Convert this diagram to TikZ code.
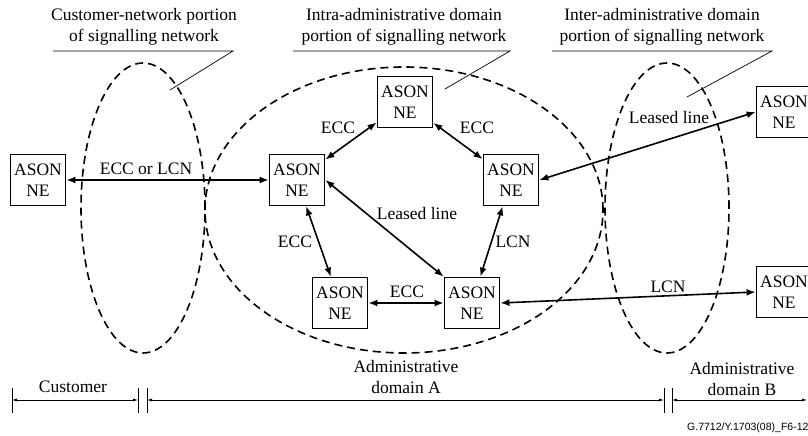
\documentclass[tikz,border=0pt]{standalone}
\usepackage{fontspec}
\setmainfont{Liberation Serif}
\newfontfamily\codefont{Liberation Sans}
\usetikzlibrary{arrows.meta}

\begin{document}
\begin{tikzpicture}[x=1pt,y=-1pt,
    font=\fontsize{17.5}{20.5}\selectfont,
    box/.style={draw,line width=1.8pt,minimum width=55pt,minimum height=51pt,inner sep=1pt,align=center},
    link/.style={{Latex[length=9pt,width=7pt]}-{Latex[length=9pt,width=7pt]},line width=1.6pt},
    portion/.style={line width=1.6pt,dash pattern=on 8pt off 5pt},
    lbl/.style={inner sep=0pt,align=center},
    dim/.style={{Latex[length=5pt,width=3pt]}-{Latex[length=5pt,width=3pt]},line width=0.7pt},
    leader/.style={line width=0.7pt}]
    \useasboundingbox (0,0) rectangle (808,436);

    % portions of the signalling network
    \draw[portion] (143,208) ellipse [x radius=62pt, y radius=145pt];
    \draw[portion] (404,210) ellipse [x radius=199pt, y radius=143pt];
    \draw[portion] (667,208) ellipse [x radius=62pt, y radius=145pt];

    \node[lbl] (tcust) at (144,27) {Customer-network portion\\of signalling network};
    \node[lbl] (tintra) at (404,27) {Intra-administrative domain\\portion of signalling network};
    \node[lbl] (tinter) at (662,27) {Inter-administrative domain\\portion of signalling network};
    \coordinate (u1a) at (53,51);  \coordinate (u1b) at (233,51);  \coordinate (p1) at (170,90);
    \coordinate (u2a) at (293,51); \coordinate (u2b) at (510,51);  \coordinate (p2) at (445,89);
    \coordinate (u3a) at (552,51); \coordinate (u3b) at (772,51);  \coordinate (p3) at (687,97);
    \draw[leader] (u1a) -- (u1b) -- (p1);
    \draw[leader] (u2a) -- (u2b) -- (p2);
    \draw[leader] (u3a) -- (u3b) -- (p3);

    % network elements
    \node[box] (cne) at (38,180) {ASON\\NE};
    \node[box] (top) at (405,102) {ASON\\NE};
    \node[box] (ml) at (297,180) {ASON\\NE};
    \node[box] (mr) at (511,180) {ASON\\NE};
    \node[box] (bl) at (340,303) {ASON\\NE};
    \node[box] (br) at (472,303) {ASON\\NE};
    \node[box] (bne1) at (784,112) {ASON\\NE};
    \node[box] (bne2) at (784,292) {ASON\\NE};

    \draw[link] (cne.east) -- (ml.west);
    \draw[link] (top) -- (ml);
    \draw[link] (top) -- (mr);
    \draw[link] (ml) -- (bl);
    \draw[link] (mr) -- (br);
    \draw[link] (bl) -- (br);
    \draw[link] (ml.east) -- (br.north west);
    \draw[link] (mr.east) -- (bne1.west);
    \draw[link] (br.east) -- (bne2.west);

    \node[lbl] (l1) at (146,169) {ECC or LCN};
    \node[lbl] (l2) at (338,128) {ECC};
    \node[lbl] (l3) at (477,128) {ECC};
    \node[lbl] (l4) at (295,242) {ECC};
    \node[lbl] (l5) at (513,242) {LCN};
    \node[lbl] (l6) at (407,292) {ECC};
    \node[lbl] (l7) at (417,214) {Leased line};
    \node[lbl] (l8) at (669,118) {Leased line};
    \node[lbl] (l9) at (668,287) {LCN};

    % domains
    \coordinate (d0) at (12,400);  \coordinate (d1) at (138,400);
    \coordinate (d2) at (147,400); \coordinate (d3) at (664,400);
    \coordinate (d4) at (672,400); \coordinate (d5) at (807,400);
    \foreach \c in {d0,d1,d2,d3,d4}
        \draw[leader] ([yshift=12pt]\c) -- ([yshift=-13pt]\c);
    \draw[dim] (d0) -- (d1);
    \draw[dim] (d2) -- (d3);
    \draw[dim] (d4) -- (d5);
    \node[lbl] (dcust) at (73,387) {Customer};
    \node[lbl] (da) at (406,377) {Administrative\\domain A};
    \node[lbl] (db) at (742,379) {Administrative\\domain B};

    \node[anchor=west,inner sep=0pt,font=\codefont\fontsize{10.5}{12}\selectfont] (code) at (687,428) {G.7712/Y.1703(08)\_F6-12};
\end{tikzpicture}
\end{document}
